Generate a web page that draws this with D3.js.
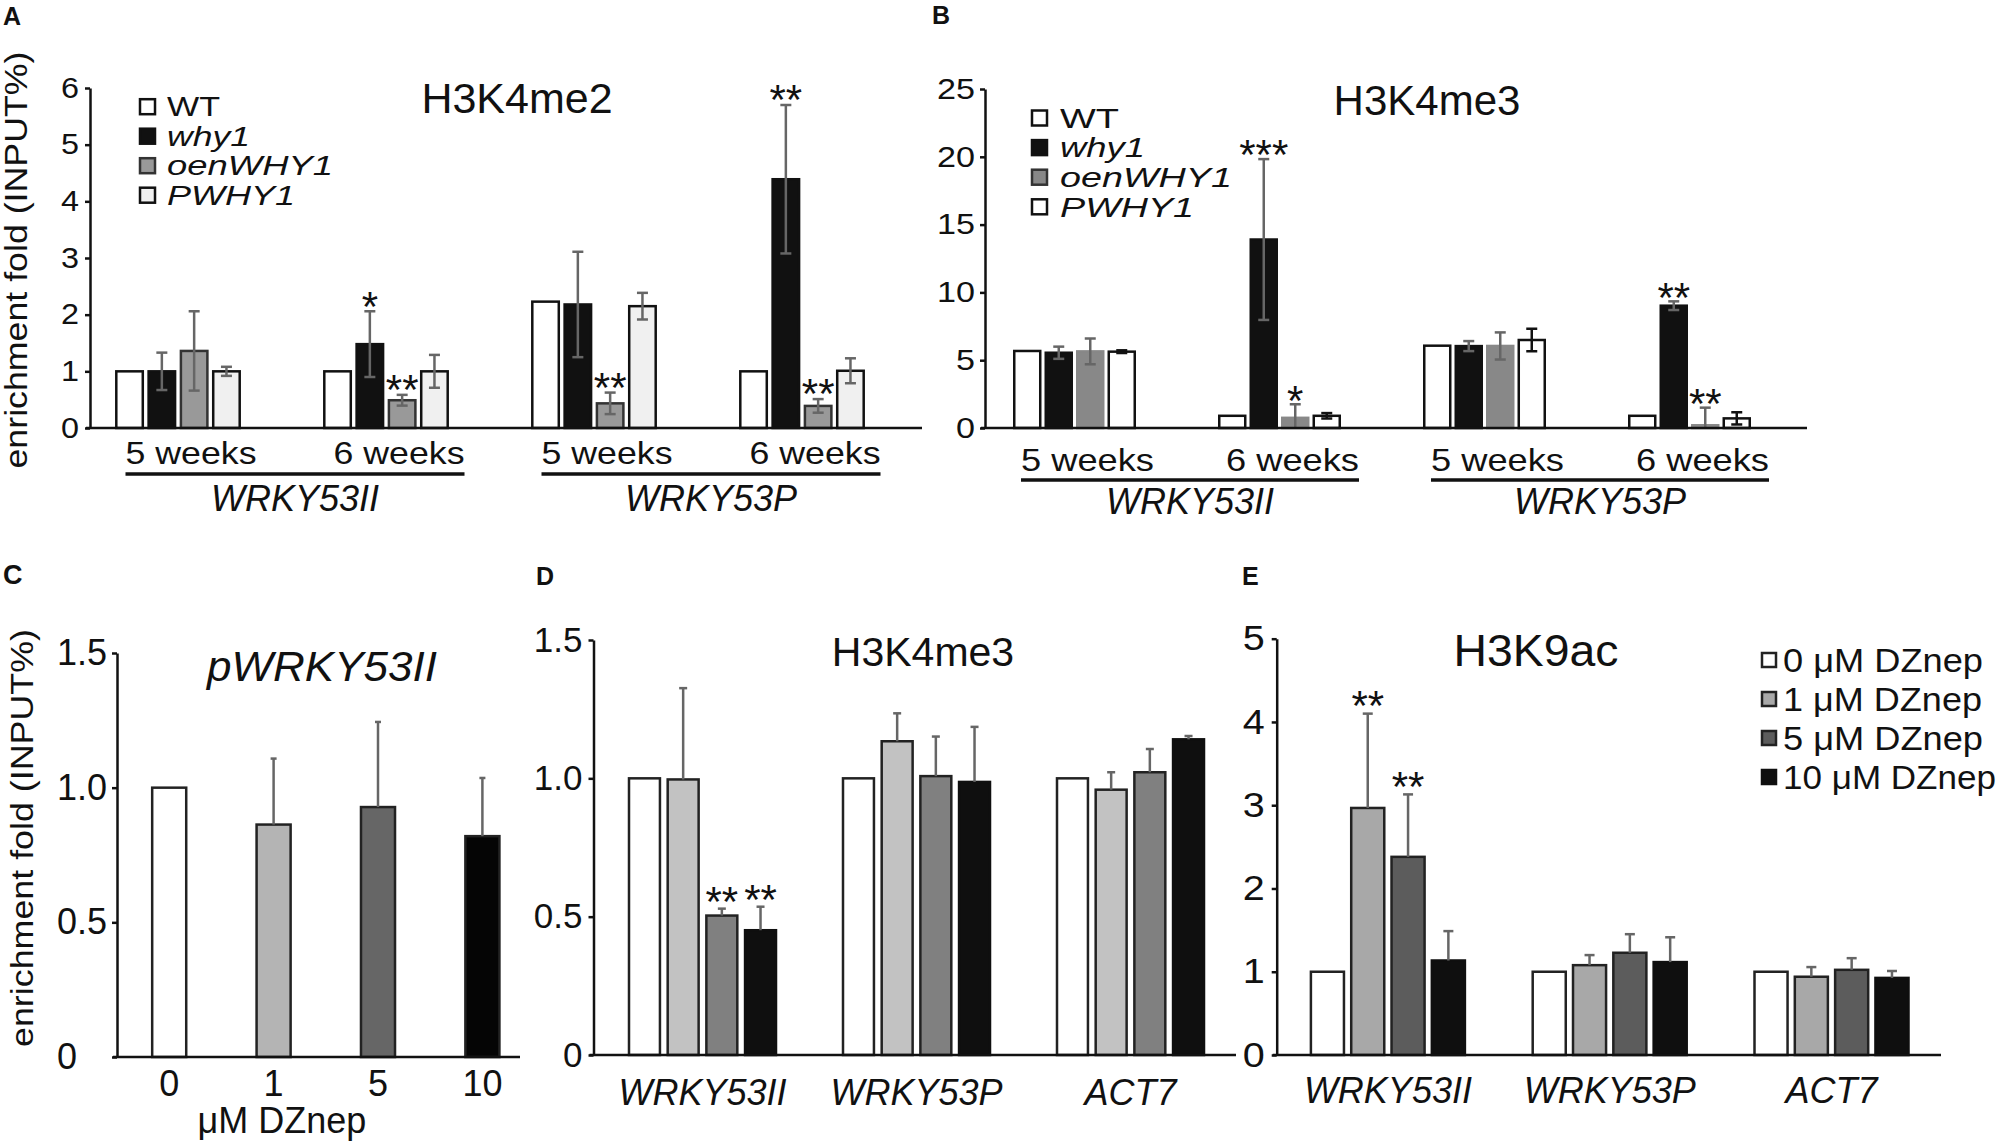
<!DOCTYPE html>
<html>
<head>
<meta charset="utf-8">
<script src="https://cdn.jsdelivr.net/npm/d3@7"></script>
<style>
  body { margin: 0; background: #fff; }
  text { font-family: "Liberation Sans", Arial, Helvetica, sans-serif; fill: #111; }
</style>
</head>
<body>
<script>
// ---- panel A : H3K4me2 ----
const aGroups = ["WRKY53II 5 weeks", "WRKY53II 6 weeks", "WRKY53P 5 weeks", "WRKY53P 6 weeks"];
const aTickLabels = ["5 weeks", "6 weeks", "5 weeks", "6 weeks"];
const genotypes = ["WT", "why1", "oenWHY1", "PWHY1"];
const aMeans = [
  [1.0, 1.0, 1.36, 1.0],
  [1.0, 1.48, 0.49, 1.0],
  [2.23, 2.18, 0.435, 2.15],
  [1.0, 4.39, 0.39, 1.01]
];
const aErrs = [
  [0, 0.33, 0.7, 0.08],
  [0, 0.58, 0.095, 0.29],
  [0, 0.93, 0.19, 0.235],
  [0, 1.31, 0.12, 0.22]
];
const aStars = [
  ["", "", "", ""],
  ["", "*", "**", ""],
  ["", "", "**", ""],
  ["", "**", "**", ""]
];

// ---- panel B : H3K4me3 ----
const bMeans = [
  [5.68, 5.55, 5.65, 5.63],
  [0.9, 13.9, 0.75, 0.9],
  [6.07, 6.04, 6.05, 6.49],
  [0.9, 9.02, 0.2, 0.71]
];
const bErrs = [
  [0, 0.45, 0.95, 0.1],
  [0, 5.93, 1.0, 0.2],
  [0, 0.37, 1.0, 0.83],
  [0, 0.32, 1.3, 0.45]
];
const bStars = [
  ["", "", "", ""],
  ["", "***", "*", ""],
  ["", "", "", ""],
  ["", "**", "**", ""]
];

// ---- panel C : pWRKY53II ----
const cDoses = ["0", "1", "5", "10"];
const cMeans = [1.0, 0.863, 0.928, 0.82];
const cErrs = [0, 0.245, 0.316, 0.216];

// ---- panels D / E ----
const loci = ["WRKY53II", "WRKY53P", "ACT7"];
const doses = ["0 μM DZnep", "1 μM DZnep", "5 μM DZnep", "10 μM DZnep"];
const dMeans = [
  [1.0, 0.996, 0.504, 0.451],
  [1.0, 1.134, 1.008, 0.987],
  [1.0, 0.959, 1.022, 1.141]
];
const dErrs = [
  [0, 0.33, 0.025, 0.085],
  [0, 0.101, 0.143, 0.199],
  [0, 0.063, 0.084, 0.012]
];
const dStars = [["", "", "**", "**"], ["", "", "", ""], ["", "", "", ""]];
const eMeans = [
  [1.0, 2.967, 2.38, 1.135],
  [1.0, 1.079, 1.228, 1.116],
  [1.0, 0.94, 1.023, 0.926]
];
const eErrs = [
  [0, 1.133, 0.75, 0.353],
  [0, 0.121, 0.223, 0.298],
  [0, 0.116, 0.14, 0.083]
];
const eStars = [["", "**", "**", ""], ["", "", "", ""], ["", "", "", ""]];

const aTicks = [0, 1, 2, 3, 4, 5, 6];
const bTicks = [0, 5, 10, 15, 20, 25];
const halfTicks = [0, 0.5, 1.0, 1.5];
const eTicks = [0, 1, 2, 3, 4, 5];

const STAR_SIZE = 42;

const svg = d3.select("body").append("svg")
  .attr("width", 2000)
  .attr("height", 1147);

const halfFmt = d => (d === 0 ? "0" : d3.format(".1f")(d));

function drawAxis(g, y, cfg) {
  const axis = d3.axisLeft(y)
    .tickValues(cfg.ticks)
    .tickSize(5)
    .tickSizeOuter(0)
    .tickPadding(cfg.tickPad)
    .tickFormat(cfg.fmt || d3.format("d"));
  const ax = g.append("g")
    .attr("transform", `translate(${cfg.axisX},0)`)
    .call(axis);
  ax.select(".domain").attr("stroke", "#111").attr("stroke-width", 2.5);
  ax.selectAll(".tick line").attr("stroke", "#111").attr("stroke-width", 2.5);
  ax.selectAll(".tick text")
    .attr("font-size", cfg.tickFont)
    .attr("fill", "#111")
    .style("font-family", "'Liberation Sans', Arial, sans-serif");
  if (cfg.digitW) {
    ax.selectAll(".tick text")
      .attr("textLength", d => axis.tickFormat()(d).length * cfg.digitW)
      .attr("lengthAdjust", "spacingAndGlyphs");
  }
  if (cfg.leftAlign) {
    ax.selectAll(".tick text").attr("text-anchor", "start").attr("x", cfg.leftAlign - cfg.axisX);
  }
  // baseline
  g.append("line")
    .attr("x1", cfg.axisX - 4).attr("x2", cfg.xEnd)
    .attr("y1", y(0)).attr("y2", y(0))
    .attr("stroke", "#111").attr("stroke-width", 2.5);
}

function drawErrors(g, rows, y, cfg) {
  const err = g.selectAll(".err").data(rows.filter(d => d.e > 0)).enter()
    .append("g").attr("class", "err")
    .attr("stroke", d => d.errColor || "#666")
    .attr("stroke-width", 2.5);
  const lo = d => (cfg.twoSided ? Math.max(0, d.v - d.e) : d.v);
  err.append("line")
    .attr("x1", d => d.cx).attr("x2", d => d.cx)
    .attr("y1", d => y(lo(d))).attr("y2", d => y(d.v + d.e));
  err.append("line")
    .attr("x1", d => d.cx - cfg.capW / 2).attr("x2", d => d.cx + cfg.capW / 2)
    .attr("y1", d => y(d.v + d.e)).attr("y2", d => y(d.v + d.e));
  if (cfg.twoSided) {
    err.filter(d => d.v - d.e > 0).append("line")
      .attr("x1", d => d.cx - cfg.capW / 2).attr("x2", d => d.cx + cfg.capW / 2)
      .attr("y1", d => y(d.v - d.e)).attr("y2", d => y(d.v - d.e));
  }
  g.selectAll(".star").data(rows.filter(d => d.star)).enter()
    .append("text").attr("class", "star")
    .attr("x", d => d.cx)
    .attr("y", d => y(d.v + d.e) - cfg.starGap + 0.58 * STAR_SIZE)
    .attr("text-anchor", "middle")
    .attr("font-size", STAR_SIZE)
    .text(d => d.star);
}

function groupedPanel(cfg) {
  const g = svg.append("g");
  const y = d3.scaleLinear().domain(cfg.yDomain).range([cfg.y0, cfg.y1]);
  const x0 = d3.scaleBand().domain(cfg.groups).range(cfg.xRange);
  const x1 = d3.scaleBand().domain(cfg.series)
    .range([-cfg.inner / 2, cfg.inner / 2])
    .paddingInner(cfg.barPad);

  const rows = cfg.groups.flatMap((grp, i) => cfg.series.map((s, j) => ({
    grp, s, j,
    v: cfg.means[i][j],
    e: cfg.errs[i][j],
    star: cfg.stars[i][j],
    errColor: cfg.errColors ? cfg.errColors[j] : null,
    x: x0(grp) + x0.bandwidth() / 2 + x1(s),
    cx: x0(grp) + x0.bandwidth() / 2 + x1(s) + x1.bandwidth() / 2
  })));

  g.selectAll(".bar").data(rows).enter()
    .append("rect").attr("class", "bar")
    .attr("x", d => d.x)
    .attr("width", x1.bandwidth())
    .attr("y", d => y(d.v))
    .attr("height", d => y(0) - y(d.v))
    .attr("fill", d => cfg.fills[d.j])
    .attr("stroke", d => cfg.strokes[d.j])
    .attr("stroke-width", 2.5);

  drawErrors(g, rows, y, cfg);
  drawAxis(g, y, cfg);
  return { g, y, x0 };
}

function legend(g, items, cfg) {
  const row = g.selectAll(".lg").data(items).enter()
    .append("g").attr("class", "lg")
    .attr("transform", (d, i) => `translate(0,${cfg.y + i * cfg.dy})`);
  row.append("rect")
    .attr("x", cfg.x).attr("y", -cfg.sq / 2)
    .attr("width", cfg.sq).attr("height", cfg.sq)
    .attr("fill", (d, i) => cfg.fills[i])
    .attr("stroke", (d, i) => cfg.strokes[i])
    .attr("stroke-width", 2.5);
  row.append("text")
    .attr("x", cfg.tx)
    .attr("y", cfg.font * 0.36)
    .attr("font-size", cfg.font)
    .attr("font-style", (d, i) => (cfg.italic && cfg.italic[i] ? "italic" : "normal"))
    .attr("textLength", (d, i) => cfg.widths[i])
    .attr("lengthAdjust", "spacingAndGlyphs")
    .text(d => d);
}

function text(x, y, str, size, opts = {}) {
  const t = svg.append("text")
    .attr("x", x).attr("y", y)
    .attr("font-size", size)
    .attr("text-anchor", opts.anchor || "middle")
    .attr("font-style", opts.italic ? "italic" : "normal")
    .attr("font-weight", opts.bold ? "bold" : "normal")
    .text(str);
  if (opts.len) t.attr("textLength", opts.len).attr("lengthAdjust", "spacingAndGlyphs");
  if (opts.rotate) t.attr("transform", `rotate(-90,${x},${y})`);
  return t;
}

// genotype x labels with the underline + locus name
function genotypeLabels(x0, cfg) {
  const centers = cfg.groups.map(d => x0(d) + x0.bandwidth() / 2 + 13);
  cfg.groups.forEach((d, i) => text(centers[i], cfg.tickY, cfg.tickLabels[i], 32, { len: cfg.tickLen }));
  [0, 2].forEach((i, k) => {
    const xa = centers[i] - cfg.tickLen / 2, xb = centers[i + 1] + cfg.tickLen / 2;
    svg.append("line")
      .attr("x1", xa).attr("x2", xb)
      .attr("y1", cfg.lineY).attr("y2", cfg.lineY)
      .attr("stroke", "#111").attr("stroke-width", 3.5);
    text((xa + xb) / 2, cfg.geneY, cfg.genes[k], 36, { italic: true });
  });
}

// ---------- A ----------
const aFills = ["#fff", "#111", "#999", "#f0f0f0"];
const aStrokes = ["#111", "#111", "#333", "#111"];
const A = groupedPanel({
  groups: aGroups, series: genotypes, means: aMeans, errs: aErrs, stars: aStars,
  yDomain: [0, 6], y0: 428, y1: 88, ticks: aTicks, axisX: 90, xEnd: 922,
  xRange: [74, 906], inner: 123.4, barPad: 0.18,
  fills: aFills, strokes: aStrokes,
  twoSided: true, capW: 11, starGap: 15,
  tickPad: 6, tickFont: 29, digitW: 18
});
legend(A.g, genotypes, {
  x: 140, y: 106.7, dy: 29.5, sq: 15, tx: 167, font: 27,
  widths: [53, 83, 166, 128], italic: [false, true, true, true],
  fills: aFills, strokes: aStrokes
});
genotypeLabels(A.x0, {
  groups: aGroups, tickLabels: aTickLabels, tickY: 464, tickLen: 131,
  lineY: 474, geneY: 511, genes: ["WRKY53II", "WRKY53P"]
});
text(517, 113, "H3K4me2", 43);
text(27, 260, "enrichment fold (INPUT%)", 31, { rotate: true, len: 417 });
text(3, 25, "A", 25, { anchor: "start", bold: true });

// ---------- B ----------
const bFills = ["#fff", "#111", "#888", "#fff"];
const bStrokes = ["#111", "#111", "#888", "#111"];
const B = groupedPanel({
  groups: aGroups, series: genotypes, means: bMeans, errs: bErrs, stars: bStars,
  yDomain: [0, 25], y0: 428, y1: 89, ticks: bTicks, axisX: 985, xEnd: 1807,
  xRange: [972, 1792], inner: 120.5, barPad: 0.175,
  fills: bFills, strokes: bStrokes, errColors: ["#666", "#666", "#666", "#111"],
  twoSided: true, capW: 11, starGap: 14,
  tickPad: 5, tickFont: 29, digitW: 19
});
legend(B.g, genotypes, {
  x: 1032, y: 118, dy: 29.6, sq: 15, tx: 1060, font: 27,
  widths: [59, 85, 172, 134], italic: [false, true, true, true],
  fills: ["#fff", "#111", "#888", "#fff"], strokes: ["#111", "#111", "#333", "#111"]
});
genotypeLabels(B.x0, {
  groups: aGroups, tickLabels: aTickLabels, tickY: 471, tickLen: 133,
  lineY: 480, geneY: 514, genes: ["WRKY53II", "WRKY53P"]
});
text(1427, 115, "H3K4me3", 42);
text(932, 24, "B", 25, { anchor: "start", bold: true });

// ---------- C ----------
{
  const g = svg.append("g");
  const y = d3.scaleLinear().domain([0, 1.5]).range([1057, 653]);
  const x = d3.scaleBand().domain(cDoses).range([117, 534.6]).paddingInner(0.674).paddingOuter(0.337);
  const cFills = ["#fff", "#b4b4b4", "#666", "#050505"];
  const rows = cDoses.map((s, j) => ({ s, j, v: cMeans[j], e: cErrs[j], star: "", cx: x(s) + x.bandwidth() / 2 }));
  g.selectAll(".bar").data(rows).enter()
    .append("rect").attr("class", "bar")
    .attr("x", d => x(d.s)).attr("width", x.bandwidth())
    .attr("y", d => y(d.v)).attr("height", d => y(0) - y(d.v))
    .attr("fill", d => cFills[d.j])
    .attr("stroke", "#222").attr("stroke-width", 2.5);
  drawErrors(g, rows, y, { twoSided: false, capW: 6, starGap: 15 });
  drawAxis(g, y, { ticks: halfTicks, fmt: halfFmt, axisX: 117, xEnd: 520, tickPad: 6, tickFont: 36, leftAlign: 57 });
  g.selectAll(".xl").data(cDoses).enter()
    .append("text").attr("class", "xl")
    .attr("x", d => x(d) + x.bandwidth() / 2).attr("y", 1096)
    .attr("text-anchor", "middle").attr("font-size", 36)
    .text(d => d);
  text(282, 1133, "μM DZnep", 36);
  text(322, 681, "pWRKY53II", 42, { italic: true, len: 230 });
  text(33, 838, "enrichment fold (INPUT%)", 31, { rotate: true, len: 418 });
  text(3, 584, "C", 27, { anchor: "start", bold: true });
}

// ---------- D ----------
const D = groupedPanel({
  groups: loci, series: doses, means: dMeans, errs: dErrs, stars: dStars,
  yDomain: [0, 1.5], y0: 1055, y1: 640, ticks: halfTicks, fmt: halfFmt,
  axisX: 593.5, xEnd: 1236, xRange: [595.5, 1237.5], inner: 147, barPad: 0.2,
  fills: ["#fff", "#c2c2c2", "#808080", "#0f0f0f"], strokes: ["#222", "#222", "#222", "#0f0f0f"],
  twoSided: false, capW: 8, starGap: 17,
  tickPad: 6, tickFont: 35
});
D.g.selectAll(".xl").data(loci).enter()
  .append("text").attr("class", "xl")
  .attr("x", d => D.x0(d) + D.x0.bandwidth() / 2).attr("y", 1105)
  .attr("text-anchor", "middle").attr("font-size", 36).attr("font-style", "italic")
  .text(d => d);
text(923, 666, "H3K4me3", 41);
text(536, 585, "D", 25, { anchor: "start", bold: true });

// ---------- E ----------
const eFills = ["#fff", "#a8a8a8", "#5c5c5c", "#0f0f0f"];
const eStrokes = ["#222", "#222", "#222", "#0f0f0f"];
const E = groupedPanel({
  groups: loci, series: doses, means: eMeans, errs: eErrs, stars: eStars,
  yDomain: [0, 5], y0: 1055, y1: 638.7, ticks: eTicks,
  axisX: 1276.7, xEnd: 1941, xRange: [1277, 1942.4], inner: 154, barPad: 0.18,
  fills: eFills, strokes: eStrokes,
  twoSided: false, capW: 10, starGap: 18,
  tickPad: 7, tickFont: 35, digitW: 22
});
E.g.selectAll(".xl").data(loci).enter()
  .append("text").attr("class", "xl")
  .attr("x", d => E.x0(d) + E.x0.bandwidth() / 2).attr("y", 1103)
  .attr("text-anchor", "middle").attr("font-size", 36).attr("font-style", "italic")
  .text(d => d);
legend(E.g, doses, {
  x: 1762, y: 660, dy: 39, sq: 14, tx: 1783, font: 33,
  widths: [200, 199, 200, 213],
  fills: eFills, strokes: eStrokes
});
text(1536, 666, "H3K9ac", 44, { len: 165 });
text(1242, 585, "E", 25, { anchor: "start", bold: true });
</script>
</body>
</html>
